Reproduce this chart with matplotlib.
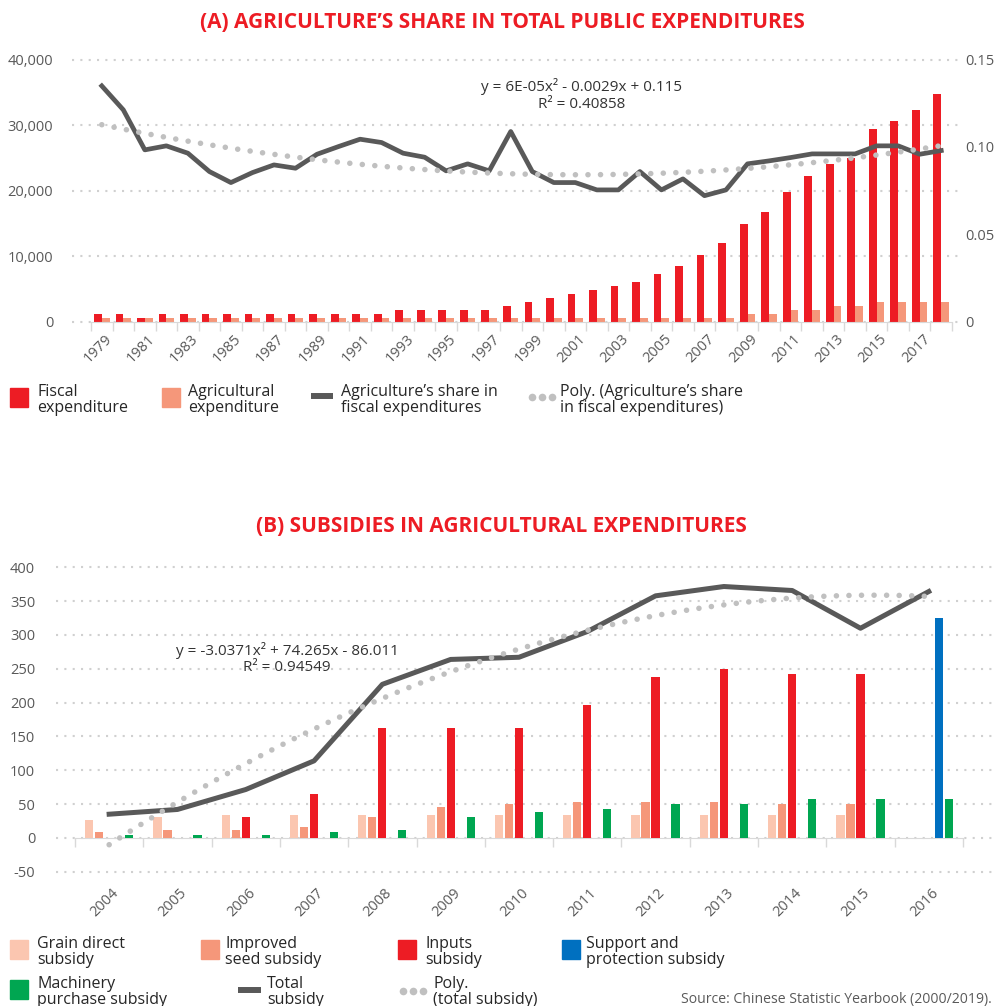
import numpy as np
import matplotlib
matplotlib.use('Agg')
from matplotlib import pyplot as plt
from matplotlib.patches import Rectangle
from matplotlib.transforms import ScaledTranslation

plt.rcParams['font.family'] = ['Open Sans', 'DejaVu Sans']
plt.rcParams['axes.unicode_minus'] = False

# ---- data: panel A ----
years_a = list(range(1979, 2019))
fiscal = [1160, 1160, 560, 1160, 1160, 1160, 1160, 1160, 1160, 1160, 1160, 1160, 1160, 1160,
          1770, 1770, 1770, 1770, 1770, 2370, 2980, 3590, 4190, 4800, 5400, 6010, 7220, 8430,
          10250, 12070, 14950, 16770, 19800, 22220, 24040, 24900, 29340, 30560, 32370, 34800]
agri = [560] * 30 + [1160, 1160, 1770, 1770, 2370, 2370, 2980, 2980, 2980, 2980]
share = [0.1349, 0.1212, 0.0983, 0.1006, 0.0964, 0.0859, 0.0796, 0.0853, 0.0897, 0.0878,
         0.0958, 0.1002, 0.1044, 0.1025, 0.0964, 0.0941, 0.0863, 0.0903, 0.0863, 0.1088,
         0.0859, 0.0796, 0.0796, 0.0754, 0.0754, 0.0859, 0.0754, 0.0817, 0.0721, 0.0754,
         0.0903, 0.0920, 0.0939, 0.0960, 0.0960, 0.0960, 0.1006, 0.1006, 0.0958, 0.0979]
eq_a = ['y = 6E-05x² - 0.0029x + 0.115', 'R² = 0.40858']

# ---- data: panel B ----
years_b = list(range(2004, 2017))
grain = [26, 31, 33.5, 33.5, 33.5, 33.5, 33.5, 33.5, 33.5, 33.5, 33.5, 33.5, 0]
seed = [8.4, 11.3, 11.3, 15.8, 30.6, 45.4, 49.8, 52.8, 52.8, 52.8, 49.8, 49.8, 0]
inputs = [0, 0, 30.6, 64.6, 162.2, 162.2, 162.2, 196.4, 237.9, 249.7, 242.3, 242.3, 0]
support = [0] * 12 + [325.2]
machinery = [4, 4, 4, 8.4, 11.3, 30.6, 38, 42.4, 49.8, 49.8, 57.2, 57.2, 57.2]
total = [35, 42, 71.5, 113.9, 227, 263.8, 267, 305, 357.8, 371.6, 365.7, 309.9, 364.2]
eq_b = ['y = -3.0371x² + 74.265x - 86.011', 'R² = 0.94549']

RED = '#ed1c24'
SALMON = '#f5977a'
PEACH = '#fbc6b0'
BLUE = '#0070c0'
GREEN = '#00a651'
LINE = '#595959'
POLY = '#c0c0c0'
GRID = '#d0d0d0'
TICK = '#d9d9d9'
TXT = '#595959'

W, H = 997, 1006
fig = plt.figure(figsize=(W / 100, H / 100), dpi=100)


def box(l, t, r, b):
    return [l / W, 1 - b / H, (r - l) / W, (b - t) / H]


def dotted_grid(ax, vals, x0, x1):
    ax.hlines(vals, x0, x1, colors=GRID, lw=1.5, linestyles=[(0, (1, 3))], zorder=0, clip_on=False)


def shift_labels(labels, dx):
    for lab in labels:
        lab.set_transform(lab.get_transform() + ScaledTranslation(dx / 100, 0, fig.dpi_scale_trans))


def clean(ax):
    for s in ax.spines.values():
        s.set_visible(False)


# ================= panel A =================
ax1 = fig.add_axes(box(72, 59.5, 958, 321.7))
xa = np.arange(len(years_a))
xlo, xhi = -1.383, 39.779
ax1.bar(xa - 0.18, fiscal, 0.36, color=RED, zorder=2)
ax1.bar(xa + 0.18, agri, 0.36, color=SALMON, zorder=2)
ax1.set_xlim(xlo, xhi)
ax1.set_ylim(0, 40000)
yt = list(range(0, 40001, 10000))
dotted_grid(ax1, yt, xlo, xhi)
ax1.set_yticks(yt)
ax1.set_yticklabels([f'{v:,}' for v in yt])
clean(ax1)
ax1.spines['bottom'].set_visible(True)
ax1.spines['bottom'].set_color(TICK)
ax1.spines['bottom'].set_bounds(-0.5, len(years_a) - 0.5)
ax1.set_xticks(xa[::2])
ax1.set_xticklabels([str(y) for y in years_a[::2]], rotation=45, ha='right', va='top',
                    rotation_mode='anchor')
ax1.set_xticks(np.arange(-0.5, len(years_a)), minor=True)
ax1.tick_params(axis='x', which='major', length=0, pad=7, labelsize=10.5, labelcolor=TXT)
ax1.tick_params(axis='x', which='minor', length=6.5, width=1, color=TICK)
ax1.tick_params(axis='y', length=0, pad=13.5, labelsize=10.5, labelcolor=TXT)
shift_labels(ax1.get_xticklabels(), 3)

ax1r = ax1.twinx()
ax1r.set_ylim(0, 0.15)
ax1r.set_yticks([0, 0.05, 0.10, 0.15])
ax1r.set_yticklabels(['0', '0.05', '0.10', '0.15'])
ax1r.tick_params(axis='y', length=0, pad=5, labelsize=10.5, labelcolor=TXT)
clean(ax1r)
ax1r.plot(xa, share, color=LINE, lw=3.4, solid_joinstyle='round', zorder=3)
ca = np.polyfit(xa + 1, share, 2)
xs = np.linspace(xa[0], xa[-1], 300)
ax1r.plot(xs, np.polyval(ca, xs + 1), color=POLY, lw=4.0, linestyle=(0, (0.01, 2.25)),
          dash_capstyle='round', zorder=4)
ax1r.text(0.575, 0.896, eq_a[0], transform=ax1.transAxes, ha='center', va='center',
          fontsize=11, color='#333333', zorder=5)
ax1r.text(0.575, 0.828, eq_a[1], transform=ax1.transAxes, ha='center', va='center',
          fontsize=11, color='#333333', zorder=5)

# ================= panel B =================
ax2 = fig.add_axes(box(56, 567.3, 993, 871.7))
xb = np.arange(len(years_b))
blo, bhi = -0.778, 12.94
step, bw = 0.1464, 0.12
for k, (vals, col) in enumerate([(grain, PEACH), (seed, SALMON), (inputs, RED),
                                  (support, BLUE), (machinery, GREEN)]):
    ax2.bar(xb + (k - 2) * step, vals, bw, color=col, zorder=2)
ax2.set_xlim(blo, bhi)
ax2.set_ylim(-50, 400)
yb = list(range(-50, 401, 50))
dotted_grid(ax2, yb, blo, bhi)
ax2.set_yticks(yb)
ax2.set_yticklabels([str(v) for v in yb])
clean(ax2)
ax2.set_xticks(xb)
ax2.set_xticklabels([str(y) for y in years_b], rotation=45, ha='right', va='top',
                    rotation_mode='anchor')
ax2.tick_params(axis='x', length=0, pad=10, labelsize=10.5, labelcolor=TXT)
ax2.tick_params(axis='y', length=0, pad=15, labelsize=10.5, labelcolor=TXT)
shift_labels(ax2.get_xticklabels(), 2)

sec = ax2.secondary_xaxis(50 / 450)
clean(sec)
sec.spines['bottom'].set_visible(True)
sec.spines['bottom'].set_color(TICK)
sec.spines['bottom'].set_bounds(-0.5, len(years_b) - 0.5)
sec.set_xticks(np.arange(-0.5, len(years_b)))
sec.tick_params(axis='x', length=6.5, width=1, color=TICK, labelbottom=False)

ax2.plot(xb, total, color=LINE, lw=3.6, solid_joinstyle='round', zorder=3)
cb = np.polyfit(xb + 1, total, 2)
xs2 = np.linspace(xb[0], xb[-1], 300)
ax2.plot(xs2, np.polyval(cb, xs2 + 1), color=POLY, lw=4.0, linestyle=(0, (0.01, 2.25)),
         dash_capstyle='round', zorder=4)
ax2.text(0.2466, 0.727, eq_b[0], transform=ax2.transAxes, ha='center', va='center',
         fontsize=11, color='#333333', zorder=5)
ax2.text(0.2466, 0.671, eq_b[1], transform=ax2.transAxes, ha='center', va='center',
         fontsize=11, color='#333333', zorder=5)

# ================= titles, legends =================
lay = fig.add_axes([0, 0, 1, 1], zorder=10)
lay.set_xlim(0, W)
lay.set_ylim(H, 0)
lay.axis('off')
lay.patch.set_alpha(0)

lay.text(502, 22, '(A) AGRICULTURE’S SHARE IN TOTAL PUBLIC EXPENDITURES', ha='center',
         va='center', fontsize=15, fontweight='bold', color=RED)
lay.text(501, 527, '(B) SUBSIDIES IN AGRICULTURAL EXPENDITURES', ha='center',
         va='center', fontsize=15, fontweight='bold', color=RED)


def label2(x, y, l1, l2):
    lay.text(x, y, l1, fontsize=11.5, color='#262626', va='baseline')
    lay.text(x, y + 16, l2, fontsize=11.5, color='#262626', va='baseline')


def square(x, y, col):
    lay.add_patch(Rectangle((x, y), 18, 19, color=col))


def line_swatch(x0, x1, y):
    lay.plot([x0, x1], [y, y], color=LINE, lw=4.3, solid_capstyle='butt')


def dot_swatch(x0, y):
    lay.plot([x0, x0 + 10, x0 + 20], [y, y, y], 'o', color=POLY, ms=5.5, mew=0)


square(10, 388, RED)
label2(37, 396, 'Fiscal', 'expenditure')
square(162, 388, SALMON)
label2(188, 396, 'Agricultural', 'expenditure')
line_swatch(311, 333, 396)
label2(341, 396, 'Agriculture’s share in', 'fiscal expenditures')
dot_swatch(532, 397)
label2(560, 396, 'Poly. (Agriculture’s share', 'in fiscal expenditures)')

square(10, 940, PEACH)
label2(37, 948, 'Grain direct', 'subsidy')
square(201, 940, SALMON)
label2(225, 948, 'Improved', 'seed subsidy')
square(398, 940, RED)
label2(425, 948, 'Inputs', 'subsidy')
square(562, 940, BLUE)
label2(586, 948, 'Support and', 'protection subsidy')
square(10, 980, GREEN)
label2(37, 988, 'Machinery', 'purchase subsidy')
line_swatch(238, 261, 990)
label2(267, 988, 'Total', 'subsidy')
dot_swatch(403, 991)
label2(433, 988, 'Poly.', '(total subsidy)')
lay.text(992, 1003, 'Source: Chinese Statistic Yearbook (2000/2019).', ha='right',
         va='baseline', fontsize=10.1, color=TXT)

fig.savefig('out.png', dpi=100)
